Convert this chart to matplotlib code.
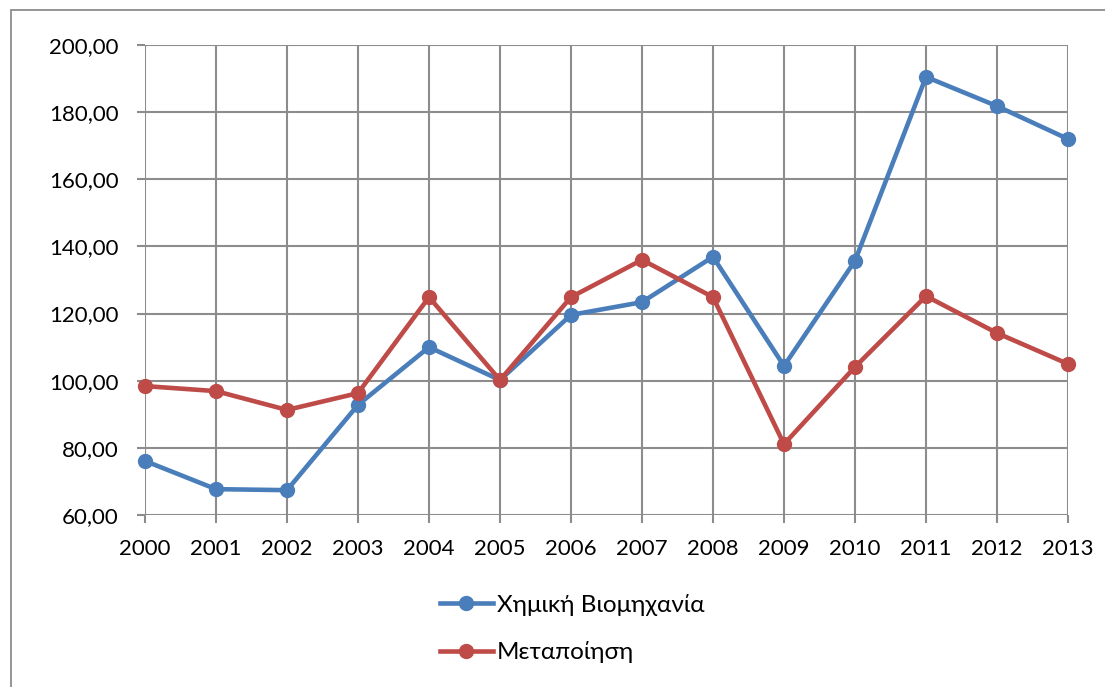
import matplotlib
matplotlib.use("Agg")
import matplotlib.pyplot as plt
from matplotlib.patches import Rectangle

years = [2000, 2001, 2002, 2003, 2004, 2005, 2006, 2007, 2008, 2009, 2010, 2011, 2012, 2013]
chem = [76.1, 67.7, 67.4, 92.8, 110.0, 100.2, 119.6, 123.4, 136.9, 104.4, 135.7, 190.5, 181.8, 172.0]
manuf = [98.4, 96.9, 91.3, 96.3, 124.9, 100.2, 124.9, 136.0, 124.9, 81.1, 104.1, 125.2, 114.2, 105.0]
labels = ["Χημική Βιομηχανία", "Μεταποίηση"]
yticks = [60, 80, 100, 120, 140, 160, 180, 200]

plt.rcParams['font.family'] = ['Lato', 'DejaVu Sans']

W, H = 1105, 687
fig = plt.figure(figsize=(W / 100, H / 100), dpi=100)
fig.patch.set_facecolor('white')
# outer frame
fig.add_artist(Rectangle((11 / W, -0.1), 1.2, 1 - 10 / H + 0.1, transform=fig.transFigure,
                         fill=False, edgecolor='#8c8c8c', linewidth=1.3))

ax = fig.add_axes([145 / W, 1 - 515 / H, (1068 - 145) / W, (515 - 45) / H])
grid_c = '#8c8c8c'
ax.set_xlim(years[0], years[-1])
ax.set_ylim(60, 200)
ax.set_xticks(years)
ax.set_yticks(yticks)
ax.set_yticklabels([f"{v:.2f}".replace('.', ',') for v in yticks])
ax.grid(True, color=grid_c, linewidth=1.5)
for s in ax.spines.values():
    s.set_visible(False)
ax.tick_params(axis='both', length=6, width=1.5, color=grid_c, labelsize=16, colors='black')
ax.tick_params(axis='y', pad=13, direction='out')
ax.tick_params(axis='x', pad=11, direction='out')
ax.tick_params(axis='both', color=grid_c)
ax.set_axisbelow(True)

l1, = ax.plot(years, chem, color='#4A7EBB', linewidth=3.3, marker='o', markersize=10,
              clip_on=False, zorder=3, label=labels[0])
l2, = ax.plot(years, manuf, color='#BE4B48', linewidth=3.3, marker='o', markersize=10,
              clip_on=False, zorder=3, label=labels[1])

fig.legend(handles=[l1, l2], loc='upper left', bbox_to_anchor=(430 / W, 1 - 584 / H),
           frameon=False, fontsize=17.5, handlelength=2.2, handletextpad=0.15,
           labelspacing=1.05, borderaxespad=0)

fig.savefig('out.png', dpi=100)
